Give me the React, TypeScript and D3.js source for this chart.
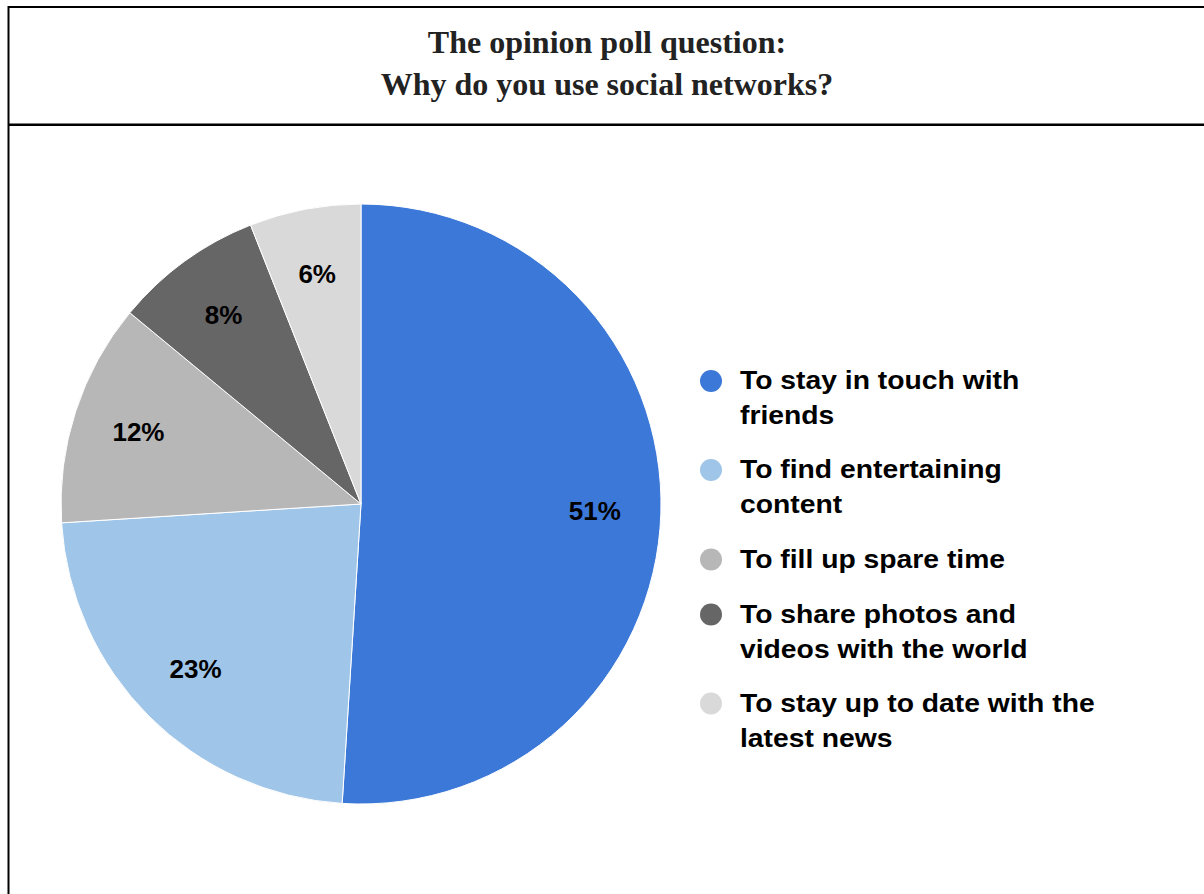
import React from "react";
import * as d3 from "d3";

const titleLines = ["The opinion poll question:", "Why do you use social networks?"];
const categories = [
  "To stay in touch with friends",
  "To find entertaining content",
  "To fill up spare time",
  "To share photos and videos with the world",
  "To stay up to date with the latest news",
];
const legendLines = [
  ["To stay in touch with", "friends"],
  ["To find entertaining", "content"],
  ["To fill up spare time"],
  ["To share photos and", "videos with the world"],
  ["To stay up to date with the", "latest news"],
];
const values = [51, 23, 12, 8, 6];
const colors = ["#3c78d8", "#9fc5e8", "#b7b7b7", "#666666", "#d9d9d9"];

export default function App() {
  const W = 1204;
  const H = 894;
  const cx = 361;
  const cy = 504;
  const R = 300;

  const pie = d3.pie<number>().sort(null).value((d) => d)(values);
  const arc = d3.arc<d3.PieArcDatum<number>>().innerRadius(0).outerRadius(R);
  const labelArc = d3.arc<d3.PieArcDatum<number>>().innerRadius(234).outerRadius(234);
  const total = d3.sum(values);

  const legendRows = [381, 470, 559.5, 614.5, 703.5];
  const sx = 1.11;

  return (
    <svg
      width={W}
      height={H}
      style={{ position: "absolute", left: 0, top: 0, background: "#fff" }}
    >
      <rect x={8.5} y={7} width={1300} height={1000} fill="none" stroke="#000" strokeWidth={2} />
      <line x1={8} x2={1300} y1={124.8} y2={124.8} stroke="#000" strokeWidth={2.4} />
      {titleLines.map((t, i) => (
        <text
          key={i}
          x={607}
          y={53 + i * 42}
          textAnchor="middle"
          fontFamily="'Liberation Serif', 'Times New Roman', serif"
          fontWeight="bold"
          fontSize={32}
          fill="#222"
        >
          {t}
        </text>
      ))}
      <g transform={`translate(${cx},${cy})`}>
        {pie.map((p, i) => (
          <path key={categories[i]} d={arc(p) || ""} fill={colors[i]} stroke="#fff" strokeWidth={1} />
        ))}
        {pie.map((p, i) => {
          const [lx, ly] = labelArc.centroid(p);
          return (
            <text
              key={"l" + i}
              x={lx}
              y={ly}
              textAnchor="middle"
              dominantBaseline="central"
              fontFamily="'Liberation Sans', Arial, sans-serif"
              fontWeight="bold"
              fontSize={26}
              fill="#000"
            >
              {Math.round((p.value / total) * 100) + "%"}
            </text>
          );
        })}
      </g>
      <g>
        {legendLines.map((lines, i) => (
          <g key={"lg" + i}>
            <circle cx={711} cy={legendRows[i]} r={11} fill={colors[i]} />
            <g transform={`translate(740,0) scale(${sx},1)`}>
              {lines.map((ln, j) => (
                <text
                  key={j}
                  x={0}
                  y={legendRows[i] + 8.5 + j * 35}
                  fontFamily="'Liberation Sans', Arial, sans-serif"
                  fontWeight="bold"
                  fontSize={25.5}
                  fill="#000"
                >
                  {ln}
                </text>
              ))}
            </g>
          </g>
        ))}
      </g>
    </svg>
  );
}
